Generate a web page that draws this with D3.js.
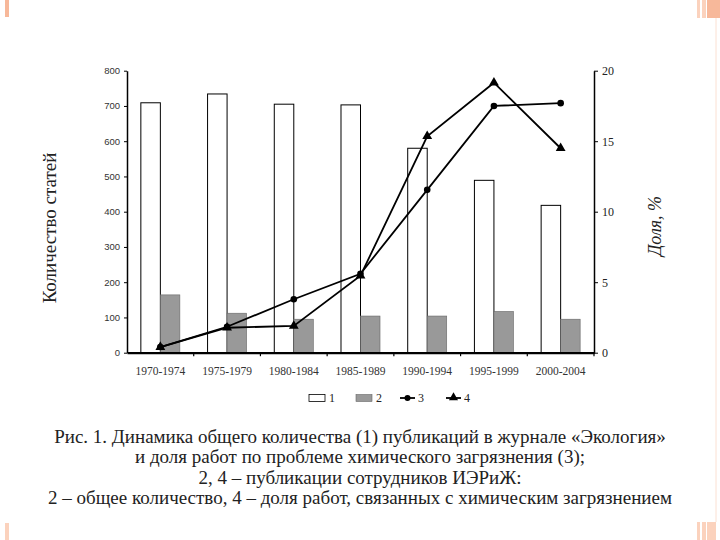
<!DOCTYPE html>
<html lang="ru">
<head>
<meta charset="utf-8">
<title>Экология</title>
<script src="https://cdn.jsdelivr.net/npm/d3@7"></script>
<style>
    body { margin: 0; background: #fff; }
    .axis path, .axis line { stroke: #000; }
</style>
</head>
<body>
<div id="chart"></div>
<script>

var periods = ["1970-1974", "1975-1979", "1980-1984", "1985-1989", "1990-1994", "1995-1999", "2000-2004"];
var totalPubs = [709, 734, 705, 703, 580, 489, 418];      // 1
var instPubs = [164, 112, 95, 104, 104, 117, 95];          // 2
var chemShare = [0.4, 1.84, 3.79, 5.6, 11.55, 17.5, 17.7]; // 3
var instChemShare = [0.4, 1.77, 1.9, 5.46, 15.35, 19.15, 14.5]; // 4
var leftTicks = [0, 100, 200, 300, 400, 500, 600, 700, 800];
var rightTicks = [0, 5, 10, 15, 20];
var caption = [
    "Рис. 1. Динамика общего количества (1) публикаций в журнале «Экология»",
    "и доля работ по проблеме химического загрязнения (3);",
    "2, 4 – публикации сотрудников ИЭРиЖ:",
    "2 – общее количество, 4 – доля работ, связанных с химическим загрязнением"
];

var SERIF = "'Liberation Serif', 'Times New Roman', 'DejaVu Serif', serif";
var W = 720, H = 540;
var plot = {left: 127, right: 594, top: 70.7, bottom: 352.7};

var svg = d3.select("#chart").append("svg")
    .attr("width", W)
    .attr("height", H);

// slide corner decoration
var deco = [[5, 0, 4, 17], [5, 523, 4, 17], [697, 0, 3, 18], [702, 0, 4, 18], [707, 0, 13, 18],
            [697, 522, 3, 18], [702, 522, 4, 18], [707, 522, 9, 18]];
svg.selectAll(".deco").data(deco).enter().append("rect")
    .attr("x", function(d) { return d[0]; })
    .attr("y", function(d) { return d[1]; })
    .attr("width", function(d) { return d[2]; })
    .attr("height", function(d) { return d[3]; })
    .style("fill", function(d, i) { return (i % 4 == 0 || i == 4) ? "#f7b89a" : "#fbd2bd"; });
svg.append("line").attr("x1", 716).attr("x2", 716).attr("y1", 18).attr("y2", 522)
    .style("stroke", "#fbe0d2").style("stroke-width", 1);

var x = d3.scaleBand()
    .domain(periods)
    .range([plot.left, plot.right]);

var sub = d3.scaleBand()
    .domain(["a", "b"])
    .range([0, x.bandwidth()])
    .paddingOuter(0.71);

var yL = d3.scaleLinear().domain([0, 800]).range([plot.bottom, plot.top]);
var yR = d3.scaleLinear().domain([0, 20]).range([plot.bottom, plot.top]);

// bars 1
svg.selectAll(".bar1").data(totalPubs).enter().append("rect")
    .attr("x", function(d, i) { return x(periods[i]) + sub("a"); })
    .attr("y", function(d) { return yL(d); })
    .attr("width", sub.bandwidth())
    .attr("height", function(d) { return yL(0) - yL(d); })
    .style("fill", "#fff")
    .style("stroke", "#000")
    .style("stroke-width", 1);

// bars 2
svg.selectAll(".bar2").data(instPubs).enter().append("rect")
    .attr("x", function(d, i) { return x(periods[i]) + sub("b"); })
    .attr("y", function(d) { return yL(d); })
    .attr("width", sub.bandwidth())
    .attr("height", function(d) { return yL(0) - yL(d); })
    .style("fill", "#999")
    .style("stroke", "#666")
    .style("stroke-width", 0.6);

// left axis
var axL = svg.append("g")
    .attr("class", "axis")
    .attr("transform", "translate(" + plot.left + ",0)")
    .call(d3.axisLeft(yL).tickValues(leftTicks).tickSize(3).tickSizeOuter(0).tickPadding(4));
axL.select(".domain").style("stroke-width", 1.5);
axL.selectAll("text").style("font-family", "'Liberation Sans', Arial, sans-serif").style("font-size", "9.5px").style("fill", "#333");

// right axis
var axR = svg.append("g")
    .attr("class", "axis")
    .attr("transform", "translate(" + plot.right + ",0)")
    .call(d3.axisRight(yR).tickValues(rightTicks).tickSize(4).tickSizeOuter(0).tickPadding(4));
axR.select(".domain").style("stroke-width", 1.5);
axR.selectAll("text").style("font-family", SERIF).style("font-size", "12px").style("fill", "#222");

// bottom axis
var axB = svg.append("g")
    .attr("class", "axis")
    .attr("transform", "translate(0," + plot.bottom + ")")
    .call(d3.axisBottom(x).tickSize(0).tickPadding(14));
axB.select(".domain").style("stroke-width", 2.2);
axB.selectAll("text").style("font-family", SERIF).style("font-size", "11.5px").style("fill", "#333");
svg.append("g").selectAll("line").data(periods).enter().append("line")
    .attr("x1", function(d) { return x(d) + x.bandwidth(); })
    .attr("x2", function(d) { return x(d) + x.bandwidth(); })
    .attr("y1", plot.bottom)
    .attr("y2", plot.bottom + 3.5)
    .style("stroke", "#000")
    .style("stroke-width", 1.2);

// lines
var cx = function(d, i) { return x(periods[i]) + x.bandwidth() / 2; };
var shareLine = d3.line().x(cx).y(function(d) { return yR(d); });

svg.append("path").datum(chemShare)
    .attr("d", shareLine)
    .style("fill", "none").style("stroke", "#000").style("stroke-width", 1.8);
svg.append("path").datum(instChemShare)
    .attr("d", shareLine)
    .style("fill", "none").style("stroke", "#000").style("stroke-width", 1.8);

svg.selectAll(".pt3").data(chemShare).enter().append("circle")
    .attr("cx", cx)
    .attr("cy", function(d) { return yR(d); })
    .attr("r", 3.3)
    .style("fill", "#000");

var tri = d3.symbol().type(d3.symbolTriangle).size(42);
svg.selectAll(".pt4").data(instChemShare).enter().append("path")
    .attr("d", tri)
    .attr("transform", function(d, i) { return "translate(" + cx(d, i) + "," + yR(d) + ")"; })
    .style("fill", "#000");

// axis titles
svg.append("text")
    .attr("transform", "translate(56,228) rotate(-90)")
    .attr("text-anchor", "middle")
    .style("font-family", SERIF)
    .style("font-size", "19px")
    .style("fill", "#222")
    .text("Количество статей");

svg.append("text")
    .attr("transform", "translate(661,226) rotate(-90)")
    .attr("text-anchor", "middle")
    .style("font-family", SERIF)
    .style("font-size", "18px")
    .style("font-style", "italic")
    .style("fill", "#222")
    .text("Доля, %");

// legend
var leg = svg.append("g").style("font-family", SERIF).style("font-size", "12px").style("fill", "#222");
leg.append("rect").attr("x", 309).attr("y", 394.5).attr("width", 16).attr("height", 7)
    .style("fill", "#fff").style("stroke", "#000").style("stroke-width", 0.8);
leg.append("text").attr("x", 329).attr("y", 402).text("1");
leg.append("rect").attr("x", 356).attr("y", 394.5).attr("width", 16).attr("height", 7)
    .style("fill", "#999").style("stroke", "#666").style("stroke-width", 0.6);
leg.append("text").attr("x", 376).attr("y", 402).text("2");
leg.append("line").attr("x1", 400).attr("x2", 415).attr("y1", 398).attr("y2", 398)
    .style("stroke", "#000").style("stroke-width", 1.8);
leg.append("circle").attr("cx", 407.5).attr("cy", 398).attr("r", 3).style("fill", "#000");
leg.append("text").attr("x", 418).attr("y", 402).text("3");
leg.append("line").attr("x1", 446).attr("x2", 461).attr("y1", 398).attr("y2", 398)
    .style("stroke", "#000").style("stroke-width", 1.8);
leg.append("path").attr("d", d3.symbol().type(d3.symbolTriangle).size(36))
    .attr("transform", "translate(453.5,397.5)").style("fill", "#000");
leg.append("text").attr("x", 464).attr("y", 402).text("4");

// caption
svg.append("g").selectAll("text").data(caption).enter().append("text")
    .attr("x", 360)
    .attr("y", function(d, i) { return 443 + i * 20.3; })
    .attr("text-anchor", "middle")
    .style("font-family", SERIF)
    .style("font-size", "19px")
    .style("fill", "#222")
    .text(function(d) { return d; });

</script>
</body>
</html>
